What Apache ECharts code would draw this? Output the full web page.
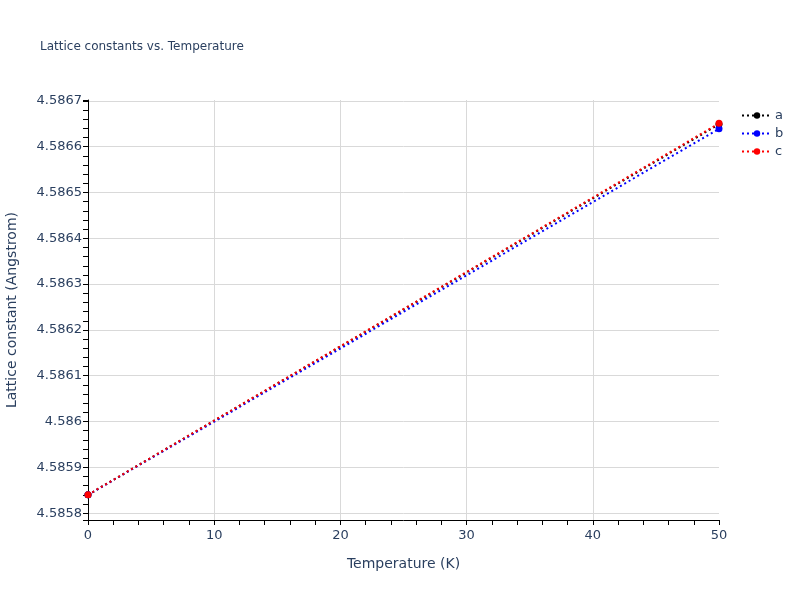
<!DOCTYPE html>
<html>
<head>
<meta charset="utf-8">
<script src="https://cdn.jsdelivr.net/npm/echarts@6/dist/echarts.min.js"></script>
<style>
  html, body { margin: 0; padding: 0; background: #fff; }
  #chart { width: 800px; height: 600px; }
</style>
</head>
<body>
<div id="chart"></div>
<script>
// temperatures (K)
const temps = [0, 50]
// lattice constants (Angstrom)
const seriesA = [4.58584, 4.586649]
const seriesB = [4.58584, 4.586639]
const seriesC = [4.58584, 4.586651]
const seriesNames = ['a', 'b', 'c']
const seriesColors = ['#000000', '#0000ff', '#ff0000']

const font = '"DejaVu Sans", Verdana, sans-serif'
const textColor = '#2a3f5f'

const chart = echarts.init(document.getElementById('chart'))

const allData = [seriesA, seriesB, seriesC]

chart.setOption({
  backgroundColor: '#fff',
  animation: false,
  title: {
    text: 'Lattice constants vs. Temperature',
    left: 35,
    top: 36,
    textStyle: { fontFamily: font, fontSize: 12, fontWeight: 'normal', color: textColor }
  },
  legend: {
    orient: 'vertical',
    left: 736,
    top: 104,
    itemWidth: 30,
    itemHeight: 8,
    itemGap: 5,
    data: seriesNames,
    textStyle: { fontFamily: font, fontSize: 13, color: textColor, padding: [0, 0, 0, -2] }
  },
  grid: { left: 88, right: 81, top: 100, bottom: 80, outerBoundsMode: 'none' },
  xAxis: {
    type: 'value',
    min: 0,
    max: 50,
    interval: 10,
    name: 'Temperature (K)',
    nameLocation: 'middle',
    nameGap: 37,
    nameTextStyle: { fontFamily: font, fontSize: 14, color: textColor },
    axisLine: { show: true, lineStyle: { color: '#000', width: 1 } },
    axisTick: { show: true, length: 5, lineStyle: { color: '#000' } },
    minorTick: { show: true, splitNumber: 5, length: 5, lineStyle: { color: '#000' } },
    axisLabel: { fontFamily: font, fontSize: 13, color: textColor, margin: 9 },
    splitLine: { show: true, showMinLine: false, showMaxLine: false, lineStyle: { color: '#d9d9d9', width: 1 } }
  },
  yAxis: {
    type: 'value',
    min: 4.585785,
    max: 4.586702,
    splitNumber: 9,
    name: 'Lattice constant (Angstrom)',
    nameLocation: 'middle',
    nameGap: 69,
    nameTextStyle: { fontFamily: font, fontSize: 14, color: textColor },
    axisLine: { show: true, lineStyle: { color: '#000', width: 1 } },
    axisTick: { show: true, length: 5, lineStyle: { color: '#000' } },
    minorTick: { show: true, splitNumber: 5, length: 5, lineStyle: { color: '#000' } },
    axisLabel: {
      fontFamily: font, fontSize: 13, color: textColor, margin: 6,
      showMinLabel: false, showMaxLabel: false,
      formatter: v => String(+v.toFixed(4))
    },
    splitLine: { show: true, showMinLine: false, showMaxLine: false, lineStyle: { color: '#d9d9d9', width: 1 } }
  },
  series: seriesNames.map((name, i) => ({
    name: name,
    type: 'line',
    data: temps.map((t, j) => [t, allData[i][j]]),
    symbol: 'circle',
    symbolSize: 7,
    itemStyle: { color: seriesColors[i] },
    lineStyle: { color: seriesColors[i], width: 2, type: [2, 3] }
  }))
})
</script>
</body>
</html>
